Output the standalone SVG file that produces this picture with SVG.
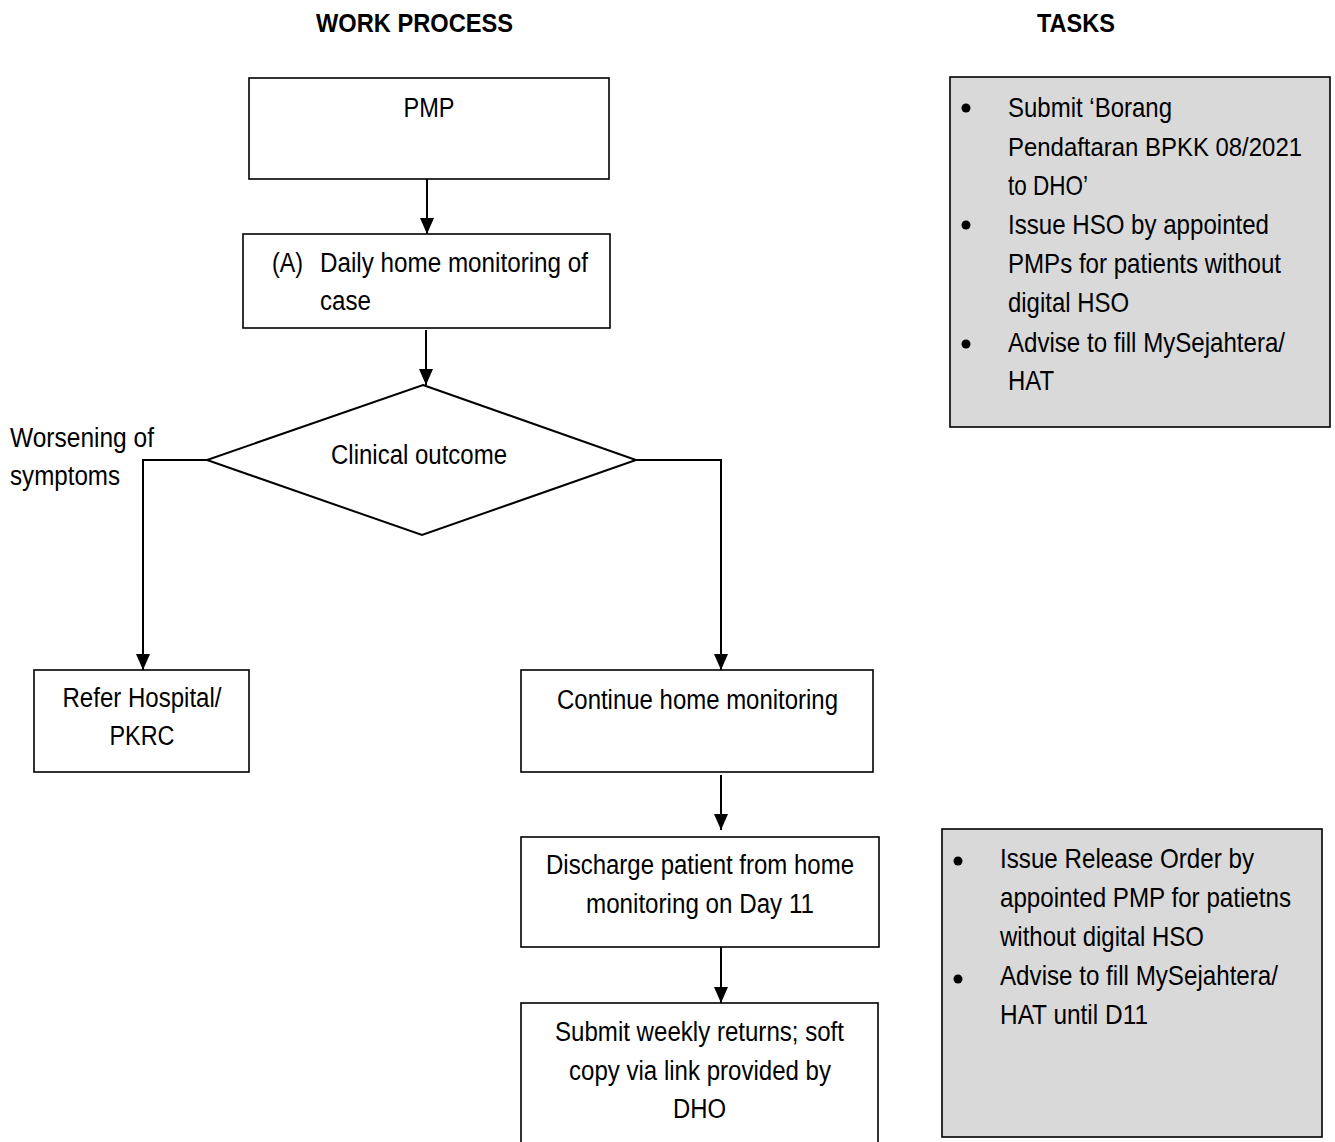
<svg xmlns="http://www.w3.org/2000/svg" width="1335" height="1142" viewBox="0 0 1335 1142">
<style>
text{font-family:"Liberation Sans",Arial,sans-serif;font-size:27px;fill:#000}
.t{font-weight:bold;font-size:26px}
.k{font-size:28px}
.m{text-anchor:middle}
.box{fill:#fff;stroke:#000;stroke-width:1.6}
.task{fill:#d9d9d9;stroke:#000;stroke-width:1.6}
.c{fill:none;stroke:#000;stroke-width:2}
</style>
<defs>
<marker id="ah" viewBox="0 0 16 14" refX="16" refY="7" markerWidth="16" markerHeight="14" markerUnits="userSpaceOnUse" orient="auto">
<path d="M0,0 L16,7 L0,14 z" fill="#000"/>
</marker>
</defs>
<rect width="1335" height="1142" fill="#fff"/>
<text class="t m" x="414.5" y="32" textLength="197" lengthAdjust="spacingAndGlyphs">WORK PROCESS</text>
<text class="t m" x="1076" y="32" textLength="78" lengthAdjust="spacingAndGlyphs">TASKS</text>
<g id="connectors">
<line class="c" x1="427" y1="179" x2="427" y2="234" marker-end="url(#ah)"/>
<line class="c" x1="426" y1="330" x2="426" y2="385" marker-end="url(#ah)"/>
<polyline class="c" points="207,460 143,460 143,670" marker-end="url(#ah)"/>
<polyline class="c" points="636,460 721,460 721,670" marker-end="url(#ah)"/>
<line class="c" x1="721" y1="775" x2="721" y2="830" marker-end="url(#ah)"/>
<line class="c" x1="721" y1="947" x2="721" y2="1003" marker-end="url(#ah)"/>
</g>
<g id="pmp">
<rect class="box" x="249" y="78" width="360" height="101"/>
<text class="m" x="429" y="117" textLength="51" lengthAdjust="spacingAndGlyphs">PMP</text>
</g>
<g id="daily">
<rect class="box" x="243" y="234" width="367" height="94"/>
<text x="272" y="272" textLength="31" lengthAdjust="spacingAndGlyphs">(A)</text>
<text x="320" y="272" textLength="268" lengthAdjust="spacingAndGlyphs">Daily home monitoring of</text>
<text x="320" y="310" textLength="51" lengthAdjust="spacingAndGlyphs">case</text>
</g>
<g id="decision">
<polygon points="423,385 636,460 422,535 207,460" fill="#fff" stroke="#000" stroke-width="2"/>
<text class="m" x="419" y="464" textLength="176" lengthAdjust="spacingAndGlyphs">Clinical outcome</text>
</g>
<g id="worsening">
<text x="10" y="447" textLength="144" lengthAdjust="spacingAndGlyphs">Worsening of</text>
<text x="10" y="485" textLength="110" lengthAdjust="spacingAndGlyphs">symptoms</text>
</g>
<g id="refer">
<rect class="box" x="34" y="670" width="215" height="102"/>
<text class="m" x="142" y="707" textLength="159" lengthAdjust="spacingAndGlyphs">Refer Hospital/</text>
<text class="m" x="142" y="745" textLength="65" lengthAdjust="spacingAndGlyphs">PKRC</text>
</g>
<g id="continue">
<rect class="box" x="521" y="670" width="352" height="102"/>
<text class="m" x="697.5" y="709" textLength="281" lengthAdjust="spacingAndGlyphs">Continue home monitoring</text>
</g>
<g id="discharge">
<rect class="box" x="521" y="837" width="358" height="110"/>
<text class="m" x="700" y="874" textLength="308" lengthAdjust="spacingAndGlyphs">Discharge patient from home</text>
<text class="m" x="700" y="913" textLength="228" lengthAdjust="spacingAndGlyphs">monitoring on Day 11</text>
</g>
<g id="submit">
<rect class="box" x="521" y="1003" width="357" height="145"/>
<text class="m" x="699.5" y="1041" textLength="289" lengthAdjust="spacingAndGlyphs">Submit weekly returns; soft</text>
<text class="m" x="700" y="1080" textLength="262" lengthAdjust="spacingAndGlyphs">copy via link provided by</text>
<text class="m" x="699.5" y="1118" textLength="53" lengthAdjust="spacingAndGlyphs">DHO</text>
</g>
<g id="tasks1">
<rect class="task" x="950" y="77" width="380" height="350"/>
<circle cx="966" cy="108" r="4.5"/>
<circle cx="966" cy="225" r="4.5"/>
<circle cx="966" cy="344" r="4.5"/>
<text class="k" x="1008" y="117" textLength="164" lengthAdjust="spacingAndGlyphs">Submit ‘Borang</text>
<text x="1008" y="156" style="font-size:26.5px" textLength="294" lengthAdjust="spacingAndGlyphs">Pendaftaran BPKK 08/2021</text>
<text class="k" x="1008" y="195" textLength="80" lengthAdjust="spacingAndGlyphs">to DHO’</text>
<text class="k" x="1008" y="234" textLength="261" lengthAdjust="spacingAndGlyphs">Issue HSO by appointed</text>
<text class="k" x="1008" y="273" textLength="273" lengthAdjust="spacingAndGlyphs">PMPs for patients without</text>
<text class="k" x="1008" y="312" textLength="121" lengthAdjust="spacingAndGlyphs">digital HSO</text>
<text class="k" x="1008" y="352" textLength="277" lengthAdjust="spacingAndGlyphs">Advise to fill MySejahtera/</text>
<text class="k" x="1008" y="390" textLength="46" lengthAdjust="spacingAndGlyphs">HAT</text>
</g>
<g id="tasks2">
<rect class="task" x="942" y="829" width="380" height="308"/>
<circle cx="958" cy="861" r="4.5"/>
<circle cx="958" cy="979" r="4.5"/>
<text class="k" x="1000" y="868" textLength="254" lengthAdjust="spacingAndGlyphs">Issue Release Order by</text>
<text class="k" x="1000" y="907" textLength="291" lengthAdjust="spacingAndGlyphs">appointed PMP for patietns</text>
<text class="k" x="1000" y="946" textLength="204" lengthAdjust="spacingAndGlyphs">without digital HSO</text>
<text class="k" x="1000" y="985" textLength="278" lengthAdjust="spacingAndGlyphs">Advise to fill MySejahtera/</text>
<text class="k" x="1000" y="1024" textLength="148" lengthAdjust="spacingAndGlyphs">HAT until D11</text>
</g>
</svg>
